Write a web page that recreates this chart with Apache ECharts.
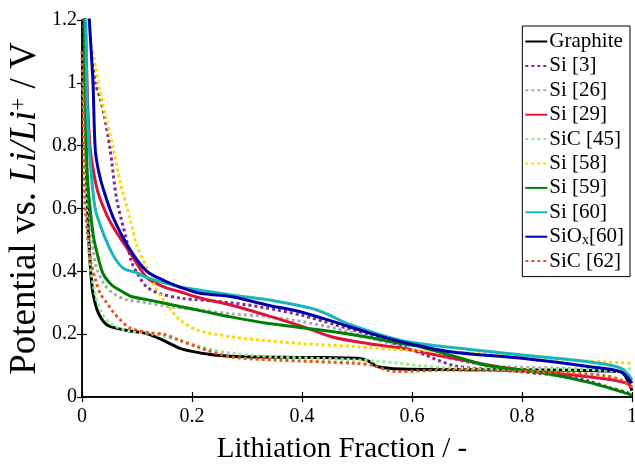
<!DOCTYPE html>
<html>
<head>
<meta charset="utf-8">
<script src="https://cdn.jsdelivr.net/npm/echarts@6/dist/echarts.min.js"></script>
<style>
  html, body { margin: 0; padding: 0; background: #fff; }
  #chart { width: 635px; height: 468px; }
</style>
</head>
<body>
<div id="chart"></div>
<script>
// tick labels
var xTicks = [0, 0.2, 0.4, 0.6, 0.8, 1];
var yTicks = [0, 0.2, 0.4, 0.6, 0.8, 1, 1.2];

// curves: [lithiation fraction, potential]
var graphite = [[0.003,1.3],[0.006,0.9],[0.01,0.6],[0.015,0.42],[0.02,0.33],[0.027,0.28],[0.035,0.25],[0.045,0.23],[0.06,0.22],[0.087,0.21],[0.11,0.205],[0.136,0.19],[0.16,0.17],[0.178,0.155],[0.21,0.142],[0.24,0.134],[0.3,0.128],[0.4,0.126],[0.5,0.123],[0.52,0.115],[0.537,0.097],[0.58,0.089],[0.7,0.087],[0.85,0.086],[0.95,0.083],[0.98,0.08],[0.99,0.06],[1,0.02]];
var si3 = [[0.018,1.08],[0.024,1.0],[0.033,0.95],[0.04,0.9],[0.051,0.79],[0.063,0.63],[0.081,0.5],[0.09,0.43],[0.105,0.38],[0.118,0.35],[0.14,0.33],[0.178,0.315],[0.27,0.3],[0.33,0.285],[0.4,0.26],[0.46,0.23],[0.52,0.2],[0.56,0.175],[0.615,0.14],[0.676,0.1],[0.74,0.088],[0.8,0.08],[0.9,0.06],[0.96,0.03],[1,0.01]];
var si26 = [[0.003,1.3],[0.008,0.8],[0.015,0.55],[0.025,0.42],[0.04,0.36],[0.057,0.33],[0.08,0.31],[0.118,0.30],[0.148,0.29],[0.215,0.277],[0.27,0.265],[0.336,0.256],[0.4,0.24],[0.457,0.22],[0.52,0.19],[0.58,0.16],[0.65,0.13],[0.737,0.10],[0.86,0.092],[0.95,0.085],[0.99,0.075],[1,0.06]];
var si29 = [[0.005,1.3],[0.01,0.95],[0.015,0.79],[0.025,0.68],[0.033,0.63],[0.045,0.58],[0.057,0.54],[0.087,0.46],[0.118,0.38],[0.15,0.35],[0.178,0.335],[0.215,0.315],[0.27,0.293],[0.336,0.26],[0.4,0.225],[0.457,0.19],[0.52,0.17],[0.58,0.155],[0.67,0.125],[0.76,0.095],[0.86,0.076],[0.95,0.058],[0.99,0.044],[1,0.03]];
var sic45 = [[0.003,1.0],[0.008,0.6],[0.015,0.42],[0.025,0.32],[0.035,0.27],[0.045,0.245],[0.06,0.225],[0.087,0.21],[0.13,0.2],[0.178,0.18],[0.215,0.16],[0.27,0.14],[0.35,0.128],[0.5,0.118],[0.58,0.107],[0.61,0.1],[0.7,0.09],[0.85,0.088],[0.97,0.086],[1,0.09]];
var si58 = [[0.017,1.12],[0.025,1.05],[0.033,0.97],[0.045,0.88],[0.057,0.79],[0.07,0.68],[0.087,0.57],[0.1,0.48],[0.118,0.41],[0.133,0.35],[0.148,0.31],[0.165,0.27],[0.178,0.245],[0.209,0.213],[0.27,0.192],[0.33,0.18],[0.4,0.17],[0.5,0.16],[0.58,0.15],[0.67,0.144],[0.8,0.128],[0.89,0.118],[1,0.107]];
var si59 = [[0.004,1.3],[0.009,0.73],[0.02,0.52],[0.03,0.44],[0.039,0.39],[0.055,0.355],[0.069,0.34],[0.09,0.32],[0.118,0.31],[0.178,0.288],[0.215,0.275],[0.27,0.255],[0.336,0.235],[0.457,0.208],[0.52,0.19],[0.58,0.17],[0.615,0.16],[0.676,0.13],[0.737,0.1],[0.834,0.078],[0.925,0.045],[1,0.006]];
var si60 = [[0.006,1.3],[0.01,0.89],[0.015,0.75],[0.024,0.6],[0.039,0.52],[0.057,0.45],[0.075,0.41],[0.1,0.395],[0.118,0.38],[0.178,0.35],[0.215,0.34],[0.27,0.325],[0.336,0.31],[0.427,0.277],[0.488,0.23],[0.58,0.18],[0.67,0.158],[0.8,0.134],[0.92,0.112],[0.98,0.092],[1,0.054]];
var siox60 = [[0.01,1.3],[0.015,1.15],[0.02,1.0],[0.024,0.79],[0.03,0.72],[0.039,0.66],[0.057,0.57],[0.087,0.47],[0.118,0.40],[0.15,0.37],[0.178,0.35],[0.215,0.33],[0.27,0.32],[0.336,0.293],[0.4,0.27],[0.457,0.24],[0.52,0.205],[0.58,0.176],[0.67,0.144],[0.8,0.123],[0.92,0.097],[0.98,0.08],[1,0.044]];
var sic62 = [[0,1.1],[0.003,0.85],[0.005,0.63],[0.01,0.52],[0.015,0.44],[0.025,0.37],[0.033,0.33],[0.045,0.3],[0.057,0.27],[0.07,0.245],[0.087,0.22],[0.12,0.205],[0.148,0.2],[0.178,0.18],[0.209,0.16],[0.27,0.128],[0.35,0.118],[0.5,0.107],[0.53,0.1],[0.567,0.081],[0.67,0.086],[0.8,0.082],[0.89,0.076],[0.95,0.068],[0.98,0.054],[1,0.03]];

var names = ['Graphite', 'Si [3]', 'Si [26]', 'Si [29]', 'SiC [45]', 'Si [58]', 'Si [59]', 'Si [60]', 'SiOx[60]', 'SiC [62]'];

var FONT = 'Liberation Serif';
var dots = [3, 3];

function line(name, data, color, dotted) {
  return {
    name: name,
    type: 'line',
    data: data,
    showSymbol: false,
    symbol: 'none',
    smooth: 0.3,
    clip: true,
    animation: false,
    lineStyle: { color: color, width: 3, type: dotted ? dots : 'solid' },
    itemStyle: { color: color }
  };
}

var axisLine = { show: true, lineStyle: { color: '#000', width: 1.5 } };
var axisTick = { show: true, inside: true, length: 5, lineStyle: { color: '#000', width: 1.2 } };

var chart = echarts.init(document.getElementById('chart'));
chart.setOption({
  backgroundColor: '#fff',
  grid: { left: 82, right: 3, top: 20, bottom: 71, show: false, containLabel: false, outerBoundsMode: 'none' },
  legend: {
    orient: 'vertical',
    right: 5,
    top: 26,
    padding: [5, 6, 5, 2],
    backgroundColor: '#fff',
    borderColor: '#000',
    borderWidth: 1,
    itemWidth: 22,
    itemHeight: 10,
    itemGap: 3.4,
    itemStyle: { opacity: 0 },
    data: names,
    formatter: function (n) { return n === 'SiOx[60]' ? 'SiO{sub|x}[60]' : n; },
    textStyle: {
      fontFamily: FONT, fontSize: 21, lineHeight: 21, color: '#000', padding: [0, 0, 0, -3],
      rich: { sub: { fontFamily: FONT, fontSize: 14, verticalAlign: 'bottom', padding: [8, 0, 0, 0] } }
    }
  },
  xAxis: [{
    type: 'value', min: 0, max: 1, interval: 0.2,
    name: 'Lithiation Fraction / -',
    nameLocation: 'middle', nameGap: 38,
    nameTextStyle: { fontFamily: FONT, fontSize: 29, color: '#000', padding: [0, 30, 0, 0] },
    axisLine: axisLine,
    axisTick: axisTick,
    axisLabel: { fontFamily: FONT, fontSize: 20, color: '#000', margin: 10,
      formatter: function (v) { return xTicks.indexOf(v) >= 0 ? String(v) : ''; } },
    splitLine: { show: false }
  }, {
    type: 'value', min: 0, max: 1, interval: 0.2, position: 'top',
    axisLine: axisLine, axisTick: axisTick,
    axisLabel: { show: false }, splitLine: { show: false }
  }],
  yAxis: [{
    type: 'value', min: 0, max: 1.2, interval: 0.2,
    name: 'Potential vs. {i|Li/Li}{s|+} / V',
    nameLocation: 'middle', nameGap: 38, nameMoveOverlap: false,
    nameTextStyle: {
      fontFamily: FONT, fontSize: 37, color: '#000',
      rich: {
        i: { fontFamily: FONT, fontSize: 37, fontStyle: 'italic', color: '#000' },
        s: { fontFamily: FONT, fontSize: 23, verticalAlign: 'top', color: '#000' }
      }
    },
    axisLine: axisLine,
    axisTick: axisTick,
    axisLabel: { fontFamily: FONT, fontSize: 20, color: '#000', margin: 5,
      formatter: function (v) { var r = Math.round(v * 10) / 10; return yTicks.indexOf(r) >= 0 ? String(r) : ''; } },
    splitLine: { show: false }
  }, {
    type: 'value', min: 0, max: 1.2, interval: 0.2, position: 'right',
    axisLine: axisLine, axisTick: axisTick,
    axisLabel: { show: false }, splitLine: { show: false }
  }],
  series: [
    line(names[0], graphite, '#000000', false),
    line(names[1], si3, '#7e2f8e', true),
    line(names[2], si26, '#aaaaaa', true),
    line(names[3], si29, '#dc143c', false),
    line(names[4], sic45, '#90ee90', true),
    line(names[5], si58, '#ffd700', true),
    line(names[6], si59, '#008000', false),
    line(names[7], si60, '#1ab5bb', false),
    line(names[8], siox60, '#0000a8', false),
    line(names[9], sic62, '#e0561b', true)
  ]
});
</script>
</body>
</html>
